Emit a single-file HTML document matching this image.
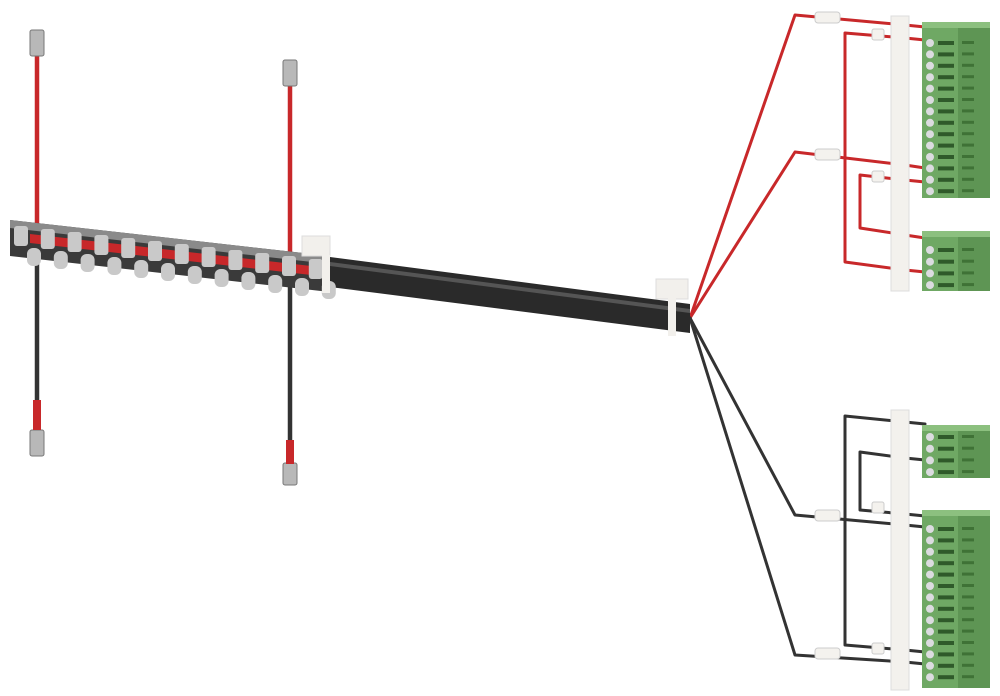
<!DOCTYPE html><html><head><style>html,body{margin:0;padding:0;background:#fff}svg{display:block}</style></head><body>
<svg id="s" width="1000" height="696" viewBox="0 0 1000 696" xmlns="http://www.w3.org/2000/svg">
<g fill="none" stroke-linecap="round" stroke-linejoin="round">
<line x1="37" y1="55" x2="37" y2="235" stroke="#c8282a" stroke-width="4.5"/>
<line x1="37" y1="250" x2="37" y2="405" stroke="#333" stroke-width="4.5"/>
<line x1="290" y1="85" x2="290" y2="270" stroke="#c8282a" stroke-width="4.5"/>
<line x1="290" y1="280" x2="290" y2="445" stroke="#333" stroke-width="4.5"/>
<path d="M690 318 L795 15 L905 25" stroke="#c8282a" stroke-width="3"/>
<path d="M690 318 L795 152 L905 165" stroke="#c8282a" stroke-width="3"/>
<path d="M845 33 L905 38 M845 33 L845 262 L905 270" stroke="#c8282a" stroke-width="3"/>
<path d="M860 175 L905 180 M860 175 L860 228 L905 235" stroke="#c8282a" stroke-width="3"/>
<path d="M905 25 L925 27 M905 38 L925 40 M905 165 L925 168 M905 180 L925 182 M905 235 L925 238 M905 270 L925 272" stroke="#c8282a" stroke-width="3"/>
<path d="M690 318 L795 515 L905 525" stroke="#333" stroke-width="3"/>
<path d="M690 318 L795 655 L905 662" stroke="#333" stroke-width="3"/>
<path d="M845 416 L905 422 M845 416 L845 645 L905 650" stroke="#333" stroke-width="3"/>
<path d="M860 452 L905 458 M860 452 L860 510 L905 514" stroke="#333" stroke-width="3"/>
<path d="M905 422 L925 424 M905 458 L925 460 M905 514 L925 516 M905 525 L925 527 M905 650 L925 652 M905 662 L925 664" stroke="#333" stroke-width="3"/>
</g>
<polygon points="330,257 690,304 690,333 330,287" fill="#2a2a2a"/>
<polygon points="330,262 690,309 690,313 330,266" fill="#555"/>
<polygon points="10,220 330,256 330,292 10,256" fill="#3a3a3a"/>
<polygon points="10,220 330,256 330,264 10,228" fill="#8a8a8a"/>
<polygon points="30,234 320,267 320,276 30,243" fill="#c8282a"/>
<g id="teeth"></g>
<rect x="302" y="236" width="28" height="20" fill="#f2f0ec" stroke="#ddd"/>
<rect x="322" y="255" width="8" height="38" fill="#f2f0ec"/>
<rect x="656" y="279" width="32" height="20" fill="#f2f0ec" stroke="#ddd"/>
<rect x="668" y="298" width="8" height="38" fill="#f2f0ec"/>
<g fill="#b8b8b8" stroke="#777" stroke-width="1">
<rect x="30" y="30" width="14" height="26" rx="2"/><rect x="283" y="60" width="14" height="26" rx="2"/>
<rect x="30" y="430" width="14" height="26" rx="2"/><rect x="283" y="463" width="14" height="22" rx="2"/>
</g>
<rect x="33" y="400" width="8" height="30" fill="#c8282a"/>
<rect x="286" y="440" width="8" height="24" fill="#c8282a"/>
<g fill="#f4f2ee" stroke="#ccc">
<rect x="815" y="12" width="25" height="11" rx="3"/><rect x="815" y="149" width="25" height="11" rx="3"/>
<rect x="872" y="29" width="12" height="11" rx="2"/><rect x="872" y="171" width="12" height="11" rx="2"/>
<rect x="815" y="510" width="25" height="11" rx="3"/><rect x="815" y="648" width="25" height="11" rx="3"/>
<rect x="872" y="502" width="12" height="11" rx="2"/><rect x="872" y="643" width="12" height="11" rx="2"/>
</g>
<rect x="891" y="16" width="18" height="275" fill="#f3f1ed" stroke="#ddd"/>
<rect x="891" y="410" width="18" height="280" fill="#f3f1ed" stroke="#ddd"/>
<g id="conn"></g>
</svg>
<script>
var ns="http://www.w3.org/2000/svg";
function el(p,t,a){var e=document.createElementNS(ns,t);for(var k in a)e.setAttribute(k,a[k]);p.appendChild(e);return e;}
var T=document.getElementById("teeth");
for(var i=0;i<12;i++){var x=14+i*26.8,y=236+i*3;
el(T,"rect",{x:x,y:y-10,width:14,height:20,rx:3,fill:"#c9c9c9"});
el(T,"rect",{x:x+13,y:y+12,width:14,height:18,rx:6,fill:"#c9c9c9"});}
var C=document.getElementById("conn");
function conn(y0,y1,n,p0,sp){
el(C,"rect",{x:922,y:y0,width:68,height:y1-y0,fill:"#6fa864"});
el(C,"rect",{x:958,y:y0,width:32,height:y1-y0,fill:"#5e9554"});
el(C,"rect",{x:922,y:y0,width:68,height:6,fill:"#8cc07f"});
for(var i=0;i<n;i++){var y=p0+i*sp;
el(C,"circle",{cx:930,cy:y,r:4,fill:"#dcdce0"});
el(C,"rect",{x:938,y:y-2,width:16,height:4,fill:"#2f5a2a"});
el(C,"rect",{x:962,y:y-2,width:12,height:3,fill:"#3f7236"});}}
conn(22,198,14,43,11.4);conn(231,291,4,250,11.7);conn(425,478,4,437,11.7);conn(510,688,14,529,11.4);
</script>
</body></html>
